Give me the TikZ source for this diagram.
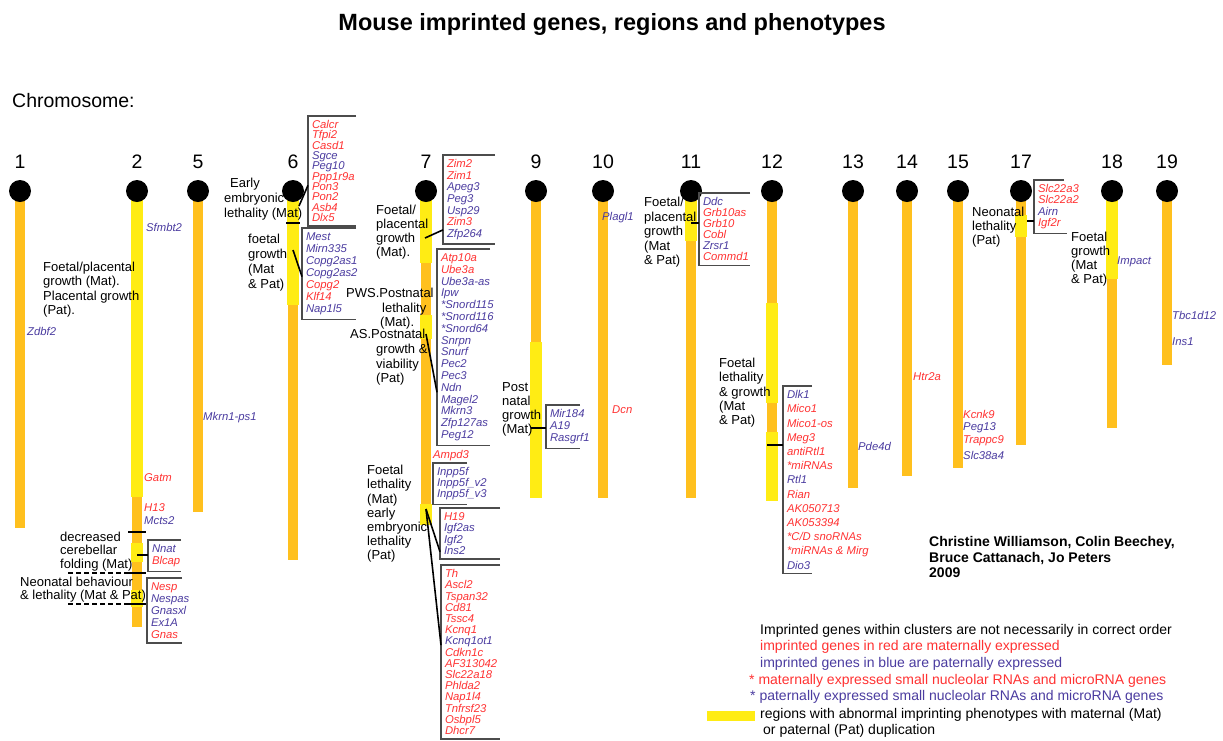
\documentclass[tikz,border=0pt]{standalone}
\usepackage{fontspec}
\setmainfont{Liberation Sans}
\usetikzlibrary{calc}

\definecolor{barorange}{RGB}{255,192,30}
\definecolor{dupyellow}{RGB}{255,236,20}
\definecolor{matred}{RGB}{255,50,50}
\definecolor{patblue}{RGB}{75,60,160}
\newcommand{\mgene}[1]{\textcolor{matred}{#1}}
\newcommand{\pgene}[1]{\textcolor{patblue}{#1}}

\tikzset{
  chrom/.style={fill=barorange},
  dup/.style={fill=dupyellow},
  centro/.style={circle, fill=black, minimum size=22pt, inner sep=0pt},
  chrnum/.style={font=\fontsize{19.5}{22}\selectfont, inner sep=0pt},
  gene/.style={font={\fontsize{11.3}{12}\selectfont\itshape}, anchor=west, inner sep=0pt},
  matg/.style={text=matred},
  patg/.style={text=patblue},
  genelist/.style={font={\fontsize{11.3}{#1}\selectfont\itshape\lineskiplimit=-20pt\lineskip=0pt},
    align=left, anchor=north west, inner xsep=4pt, inner ysep=4.5pt, outer sep=0pt},
  pheno/.style={font={\fontsize{13}{#1}\selectfont\lineskiplimit=-20pt\lineskip=0pt},
    align=left, anchor=north west, inner sep=0pt},
  pheno/.default=14.3,
  legend/.style={font=\fontsize{14}{16}\selectfont, anchor=west, inner sep=0pt},
  brk/.style={draw=black!70, line width=1.3pt},
  tick/.style={line width=2.4pt},
  link/.style={line width=1.6pt},
  dashline/.style={line width=1.3pt, dash pattern=on 5pt off 3pt},
}

\begin{document}
\begin{tikzpicture}[x=1pt,y=-1pt]
  \useasboundingbox (0,0) rectangle (1223,740);
  \fill[white] (0,0) rectangle (1223,740);

  \node[font=\bfseries\fontsize{23.5}{26}\selectfont] (title) at (612,24)
    {Mouse imprinted genes, regions and phenotypes};
  \node[anchor=west, font=\fontsize{19.5}{22}\selectfont, inner sep=0pt] (chrlabel) at (12,101) {Chromosome:};

  % chromosome bars
  \foreach \n/\x/\e in {1/20/528, 2/137/627, 5/198/512, 6/293/560, 7/426/525, 9/536/498,
      10/603/498, 11/691/498, 12/772/501, 13/853/488, 14/907/476, 15/958/468,
      17/1021/445, 18/1112/428, 19/1167/365}
    \fill[chrom] ({\x-5},191) rectangle ({\x+5},\e);

  % duplication regions
  \foreach \x/\a/\b in {137/191/497, 137/543/562, 137/590/607, 293/200/305,
      426/200/263, 426/315/339, 426/504/525, 536/342/498, 691/200/241,
      772/303/403, 772/432/501, 1021/215/237, 1112/200/279}
    \fill[dup] ({\x-6},\a) rectangle ({\x+6},\b);

  % centromeres and numbers
  \foreach \n/\x in {1/20, 2/137, 5/198, 6/293, 7/426, 9/536, 10/603, 11/691,
      12/772, 13/853, 14/907, 15/958, 17/1021, 18/1112, 19/1167}{
    \node[centro] (c\n) at (\x,191) {};
    \node[chrnum] (n\n) at (\x,162) {\n};
  }

  % chromosome 1 and 5
  \node[gene, patg] (zdbf2) at (27,331) {Zdbf2};
  \node[gene, patg] (mkrn1) at (203,418) {Mkrn1-ps1};

  % chromosome 2
  \node[gene, patg] (sfmbt2) at (146,227) {Sfmbt2};
  \node[gene, matg] (gatm) at (144,478) {Gatm};
  \node[gene, matg] (h13) at (144,508) {H13};
  \node[gene, patg] (mcts2) at (144,521) {Mcts2};
  \node[pheno] (p2a) at (43,262) {Foetal/placental\\growth (Mat).\\Placental growth\\(Pat).};
  \node[pheno=13.3] (p2b) at (60,532) {decreased\\cerebellar\\folding (Mat)};
  \node[pheno=13] (p2c) at (20,577) {Neonatal behaviour\\\& lethality (Mat \& Pat)};
  \node[genelist=12.5] (g2a) at (148,540) {\pgene{Nnat}\\\mgene{Blcap}};
  \node[genelist=12] (g2b) at (147,578) {\mgene{Nesp}\\\pgene{Nespas}\\\pgene{Gnasxl}\\\pgene{Ex1A}\\\mgene{Gnas}};
  \draw[brk] (g2a.north west) ++(33,0) -- (g2a.north west) -- (g2a.south west) -- ++(33,0);
  \draw[brk] (g2b.north west) ++(35,0) -- (g2b.north west) -- (g2b.south west) -- ++(35,0);
  \draw[tick] (128,532) -- (146,532);
  \coordinate (k2) at (137,555);
  \draw[tick] (k2) -- (k2 -| g2a.west);
  \draw[dashline] (68,573) -- (128,573);
  \draw[tick] (128,573) -- (146,573);
  \draw[dashline] (68,604) -- (128,604);
  \draw[tick] (128,604) -- (146,604);

  % chromosome 6
  \node[pheno=15] (p6a) at (224,178) {\hspace*{6pt}Early\\embryonic\\lethality (Mat)};
  \node[pheno=15] (p6b) at (248,234) {foetal\\growth\\(Mat\\\& Pat)};
  \node[genelist=10.3] (g6a) at (308,116) {\mgene{Calcr}\\\mgene{Tfpi2}\\\mgene{Casd1}\\\pgene{Sgce}\\\pgene{Peg10}\\
    \mgene{Ppp1r9a}\\\mgene{Pon3}\\\mgene{Pon2}\\\mgene{Asb4}\\\mgene{Dlx5}};
  \node[genelist=12.1] (g6b) at (302,228) {\pgene{Mest}\\\pgene{Mirn335}\\\pgene{Copg2as1}\\\pgene{Copg2as2}\\
    \mgene{Copg2}\\\mgene{Klf14}\\\pgene{Nap1l5}};
  \draw[brk] (g6a.north west) ++(48,0) -- (g6a.north west) -- (g6a.south west) -- ++(48,0);
  \draw[brk] (g6b.north west) ++(54,0) -- (g6b.north west) -- (g6b.south west) -- ++(54,0);
  \draw[tick] (286,223) -- (300,223);
  \coordinate (k6a) at (299,206);
  \coordinate (k6b) at (293,250);
  \draw[link] (k6a) -- ($(g6a.north west)!.63!(g6a.south west)$);
  \draw[link] (k6b) -- ($(g6b.north west)!.53!(g6b.south west)$);

  % chromosome 7
  \node[pheno=14] (p7a) at (376,205) {Foetal/\\placental\\growth\\(Mat).};
  \node[pheno=14.5] (p7b) at (346,288) {PWS.Postnatal\\\hspace*{36pt}lethality\\\hspace*{34pt}(Mat).};
  \node[pheno=14.7] (p7c) at (350,329) {AS.Postnatal\\\hspace*{26pt}growth \&\\\hspace*{26pt}viability\\\hspace*{26pt}(Pat)};
  \node[pheno=14.2] (p7d) at (367,465) {Foetal\\lethality\\(Mat)\\early\\embryonic\\lethality\\(Pat)};
  \node[genelist=11.6] (g7a) at (443,155) {\mgene{Zim2}\\\mgene{Zim1}\\\pgene{Apeg3}\\\pgene{Peg3}\\\pgene{Usp29}\\
    \mgene{Zim3}\\\pgene{Zfp264}};
  \node[genelist=11.8] (g7b) at (437,249) {\mgene{Atp10a}\\\mgene{Ube3a}\\\pgene{Ube3a-as}\\\pgene{Ipw}\\
    \pgene{*Snord115}\\\pgene{*Snord116}\\\pgene{*Snord64}\\\pgene{Snrpn}\\\pgene{Snurf}\\\pgene{Pec2}\\
    \pgene{Pec3}\\\pgene{Ndn}\\\pgene{Magel2}\\\pgene{Mkrn3}\\\pgene{Zfp127as}\\\pgene{Peg12}};
  \node[gene, matg] (ampd3) at (433,456) {Ampd3};
  \node[genelist=11] (g7c) at (433,463) {\pgene{Inpp5f}\\\pgene{Inpp5f\_v2}\\\pgene{Inpp5f\_v3}};
  \node[genelist=11.3] (g7d) at (440,508) {\mgene{H19}\\\pgene{Igf2as}\\\pgene{Igf2}\\\pgene{Ins2}};
  \node[genelist=11.2] (g7e) at (441,565) {\mgene{Th}\\\mgene{Ascl2}\\\mgene{Tspan32}\\\mgene{Cd81}\\\mgene{Tssc4}\\
    \mgene{Kcnq1}\\\pgene{Kcnq1ot1}\\\mgene{Cdkn1c}\\\mgene{AF313042}\\\mgene{Slc22a18}\\\mgene{Phlda2}\\
    \mgene{Nap1l4}\\\mgene{Tnfrsf23}\\\mgene{Osbpl5}\\\mgene{Dhcr7}};
  \draw[brk] (g7a.north west) ++(52,0) -- (g7a.north west) -- (g7a.south west) -- ++(52,0);
  \draw[brk] (g7b.north west) ++(53,0) -- (g7b.north west) -- (g7b.south west) -- ++(53,0);
  \draw[brk] (g7c.north west) ++(34,0) -- (g7c.north west) -- (g7c.south west) -- ++(34,0);
  \draw[brk] (g7d.north west) ++(60,0) -- (g7d.north west) -- (g7d.south west) -- ++(60,0);
  \draw[brk] (g7e.north west) ++(59,0) -- (g7e.north west) -- (g7e.south west) -- ++(59,0);
  \coordinate (k7a) at (425,238);
  \coordinate (k7b) at (426,334);
  \coordinate (k7c) at (426,509);
  \draw[link] (k7a) -- ($(g7a.north west)!.84!(g7a.south west)$);
  \draw[link] (k7b) -- ($(g7b.north west)!.73!(g7b.south west)$);
  \draw[link] (k7c) -- ($(g7d.north west)!.86!(g7d.south west)$);
  \draw[link] (k7c) -- ($(g7e.north west)!.46!(g7e.south west)$);

  % chromosome 9 and 10
  \node[pheno=14] (p9) at (502,382) {Post\\natal\\growth\\(Mat)};
  \node[genelist=12] (g9) at (546,405) {\pgene{Mir184}\\\pgene{A19}\\\pgene{Rasgrf1}};
  \draw[brk] (g9.north west) ++(34,0) -- (g9.north west) -- (g9.south west) -- ++(34,0);
  \coordinate (k9) at (531,428);
  \draw[tick] (k9) -- (k9 -| g9.west);
  \node[gene, patg] (plagl1) at (602,218) {Plagl1};
  \node[gene, matg] (dcn) at (612,410) {Dcn};

  % chromosome 11
  \node[pheno=14.5] (p11) at (644,197) {Foetal/\\placental\\growth\\(Mat\\\& Pat)};
  \node[genelist=11] (g11) at (699,193) {\pgene{Ddc}\\\mgene{Grb10as}\\\mgene{Grb10}\\\mgene{Cobl}\\\pgene{Zrsr1}\\\mgene{Commd1}};
  \draw[brk] (g11.north west) ++(51,0) -- (g11.north west) -- (g11.south west) -- ++(51,0);
  \coordinate (k11) at (691,223);
  \draw[tick] (k11) -- (k11 -| g11.west);

  % chromosome 12
  \node[pheno] (p12) at (719,358) {Foetal\\lethality\\\& growth\\(Mat\\\& Pat)};
  \node[genelist=14.2] (g12) at (783,386) {\pgene{Dlk1}\\\mgene{Mico1}\\\mgene{Mico1-os}\\\mgene{Meg3}\\\mgene{antiRtl1}\\
    \mgene{*miRNAs}\\\pgene{Rtl1}\\\mgene{Rian}\\\mgene{AK050713}\\\mgene{AK053394}\\\mgene{*C/D snoRNAs}\\
    \mgene{*miRNAs \& Mirg}\\\pgene{Dio3}};
  \draw[brk] (g12.north west) ++(29,0) -- (g12.north west) -- (g12.south west) -- ++(29,0);
  \coordinate (k12) at (767,445);
  \draw[tick] (k12) -- (k12 -| g12.west);

  % chromosomes 13 to 19
  \node[gene, patg] (pde4d) at (858,446) {Pde4d};
  \node[gene, matg] (htr2a) at (913,377) {Htr2a};
  \node[gene, matg] (kcnk9) at (963,414) {Kcnk9};
  \node[gene, patg] (peg13) at (963,428) {Peg13};
  \node[gene, matg] (trappc9) at (963,441) {Trappc9};
  \node[gene, patg] (slc38a4) at (963,455) {Slc38a4};
  \node[pheno=14] (p17) at (972,207) {Neonatal\\lethality\\(Pat)};
  \node[genelist=11.3] (g17) at (1034,180) {\mgene{Slc22a3}\\\mgene{Slc22a2}\\\pgene{Airn}\\\mgene{Igf2r}};
  \draw[brk] (g17.north west) ++(30,0) -- (g17.north west) -- (g17.south west) -- ++(33,0);
  \coordinate (k17) at (1027,221);
  \draw[tick] (k17) -- (k17 -| g17.west);
  \node[pheno=14] (p18) at (1071,232) {Foetal\\growth\\(Mat\\\& Pat)};
  \node[gene, patg] (impact) at (1117,262) {Impact};
  \node[gene, patg] (tbc1d12) at (1172,315) {Tbc1d12};
  \node[gene, patg] (ins1) at (1172,342) {Ins1};

  % authors
  \node[font={\bfseries\fontsize{14}{15.5}\selectfont}, align=left, anchor=north west, inner sep=0pt]
    (authors) at (929,536.5) {Christine Williamson, Colin Beechey,\\Bruce Cattanach, Jo Peters\\2009};

  % legend
  \node[legend] (l1) at (760,631) {Imprinted genes within clusters are not necessarily in correct order};
  \node[legend, text=matred] (l2) at (760,647) {imprinted genes in red are maternally expressed};
  \node[legend, text=patblue] (l3) at (760,664) {imprinted genes in blue are paternally expressed};
  \node[legend, text=matred] (l4) at (749,681) {* maternally expressed small nucleolar RNAs and microRNA genes};
  \node[legend, text=patblue] (l5) at (750,697) {* paternally expressed small nucleolar RNAs and microRNA genes};
  \fill[dup] (707,711) rectangle (755,721);
  \node[legend] (l6) at (760,715) {regions with abnormal imprinting phenotypes with maternal (Mat)};
  \node[legend] (l7) at (763,731) {or paternal (Pat) duplication};
\end{tikzpicture}
\end{document}
